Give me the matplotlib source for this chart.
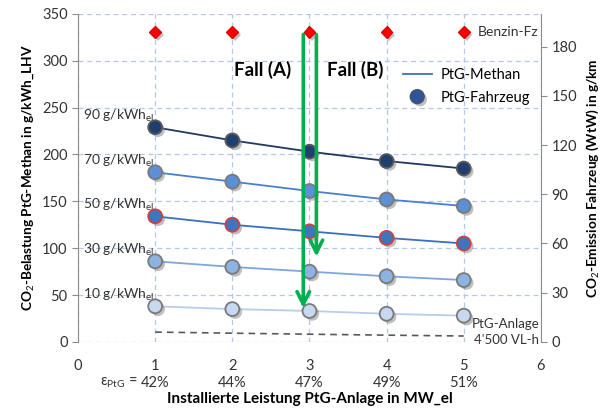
import matplotlib.pyplot as plt
import matplotlib.patheffects as pe
from matplotlib.lines import Line2D
import numpy as np

# ========== DATA ==========
leistung = [1, 2, 3, 4, 5]
eta_labels = ["42%", "44%", "47%", "49%", "51%"]
strom_labels = ["90", "70", "50", "30", "10"]

methan_90 = [229, 215, 203, 193, 185]
methan_70 = [181, 171, 161, 152, 145]
methan_50 = [134, 125, 118, 111, 105]
methan_30 = [86, 80, 75, 70, 66]
methan_10 = [38, 35, 33, 30, 28]
anlage = [10.5, 9.3, 8.2, 7.2, 6.3]      # dashed line, PtG-Anlage 4'500 VL-h
benzin_fz = [189, 189, 189, 189, 189]    # g/km, right axis

series = [methan_90, methan_70, methan_50, methan_30, methan_10]
line_cols = ["#203864", "#4A7FD0", "#3A6FC0", "#7FA6DC", "#B8CDEA"]
face_cols = ["#1F3F6E", "#5B8FD6", "#3E75C0", "#8DB3E2", "#C6D9F1"]
edge_cols = ["#5a5a5a", "#7a7a7a", "#D04040", "#7a7a7a", "#7a7a7a"]

plt.rcParams["font.family"] = ["Lato", "DejaVu Sans"]
plt.rcParams["mathtext.fontset"] = "custom"
plt.rcParams["mathtext.rm"] = "Lato"
plt.rcParams["mathtext.it"] = "Lato:italic"
plt.rcParams["mathtext.bf"] = "Lato:bold"

shadow = [pe.SimplePatchShadow(offset=(2, -2), shadow_rgbFace="#808080", alpha=0.5), pe.Normal()]
grid_col = "#B4C7E7"
spine_col = "#8C8C8C"

# ========== FIGURE ==========
fig = plt.figure(figsize=(6.05, 4.08), dpi=100)
ax = fig.add_axes([0.129, 0.162, 0.765, 0.804])
ax2 = ax.twinx()

ax.set_xlim(0, 6)
ax.set_ylim(0, 350)
ax2.set_ylim(0, 200)
ax.set_yticks(range(0, 351, 50))
ax2.set_yticks(range(0, 181, 30))
ax.set_xticks(range(0, 7))

ax.grid(True, color=grid_col, linestyle=(0, (4, 3)), linewidth=0.9)
ax.set_axisbelow(True)
for s in ["top", "bottom"]:
    ax.spines[s].set_visible(False)
    ax2.spines[s].set_visible(False)
ax.spines["right"].set_visible(False)
ax.spines["left"].set_color(spine_col)
ax2.spines["left"].set_visible(False)
ax2.spines["right"].set_color(spine_col)
ax.tick_params(axis="y", colors=spine_col, labelcolor="#333333", labelsize=10.5, length=4)
ax2.tick_params(axis="y", colors=spine_col, labelcolor="#333333", labelsize=10.5, length=4)
ax.tick_params(axis="x", length=0, labelsize=10.5, labelcolor="#333333", pad=12)

# lines + markers
for vals, lc, fc, ec, lab in zip(series, line_cols, face_cols, edge_cols, strom_labels):
    ax.plot(leistung, vals, color=lc, lw=1.3, zorder=3)
    ax.plot(leistung, vals, ls="none", marker="o", ms=10, mfc=fc, mec=ec, mew=1.3,
            zorder=4, path_effects=shadow)
    ax.text(0.06, vals[0] + 12, lab + r" g/kWh$_{\mathrm{el}}$", fontsize=10,
            ha="left", va="center", color="#333333")

ax.plot(leistung, anlage, color="#595959", ls=(0, (4, 3)), lw=1.2, zorder=3)
ax.text(5.1, 19, "PtG-Anlage", fontsize=9.5, color="#333333", va="center")
ax.text(5.13, 2, "4'500 VL-h", fontsize=9.5, color="#333333", va="center")

ax2.plot(leistung, benzin_fz, ls="none", marker="D", ms=6, mfc="#FF0000", mec="#E00000",
         zorder=5, path_effects=shadow)
ax2.text(5.18, benzin_fz[-1], "Benzin-Fz", fontsize=10, va="center", color="#333333")

# green arrows Fall (A) / Fall (B)
arrow_col = "#00B050"
ax.annotate("", xy=(2.92, 33), xytext=(2.92, 331),
            arrowprops=dict(arrowstyle="->,head_length=0.9,head_width=0.45", color=arrow_col, lw=2.6),
            zorder=6)
ax.annotate("", xy=(3.09, 88), xytext=(3.09, 331),
            arrowprops=dict(arrowstyle="->,head_length=0.9,head_width=0.45", color=arrow_col, lw=2.6),
            zorder=6)
ax.text(2.39, 290, "Fall (A)", fontsize=13.5, fontweight="bold", ha="center", va="center")
ax.text(3.6, 290, "Fall (B)", fontsize=13.5, fontweight="bold", ha="center", va="center")

# legend
handles = [Line2D([], [], color="#3A6FC0", lw=1.3),
           Line2D([], [], ls="none", marker="o", ms=10, mfc="#2F5597", mec="#44546A",
                  path_effects=shadow)]
ax.legend(handles, ["PtG-Methan", "PtG-Fahrzeug"], loc="upper right",
          bbox_to_anchor=(1.005, 0.875), frameon=False, fontsize=10.5, handlelength=2.0,
          labelspacing=0.6, handletextpad=0.6)

# efficiency row under x ticks
for x, t in zip(leistung, eta_labels):
    ax.annotate(t, xy=(x, 0), xycoords=("data", "axes fraction"), xytext=(0, -29.5),
                textcoords="offset points", ha="center", va="center", fontsize=10.5, color="#333333")
ax.annotate(r"ε$_{\mathrm{PtG}}$ = ", xy=(1, 0), xycoords=("data", "axes fraction"),
            xytext=(-12, -29.5), textcoords="offset points", ha="right", va="center",
            fontsize=10.5, color="#333333")

ax.set_xlabel("Installierte Leistung PtG-Anlage in MW_el", fontsize=11, fontweight="bold", labelpad=14)
ax.set_ylabel(r"CO$_2$-Belastung PtG-Methan in g/kWh_LHV", fontsize=9.8, fontweight="bold", labelpad=4)
ax2.set_ylabel(r"CO$_2$-Emission Fahrzeug (WtW) in g/km", fontsize=9.8, fontweight="bold", labelpad=6)

fig.savefig("out.png", dpi=100)
